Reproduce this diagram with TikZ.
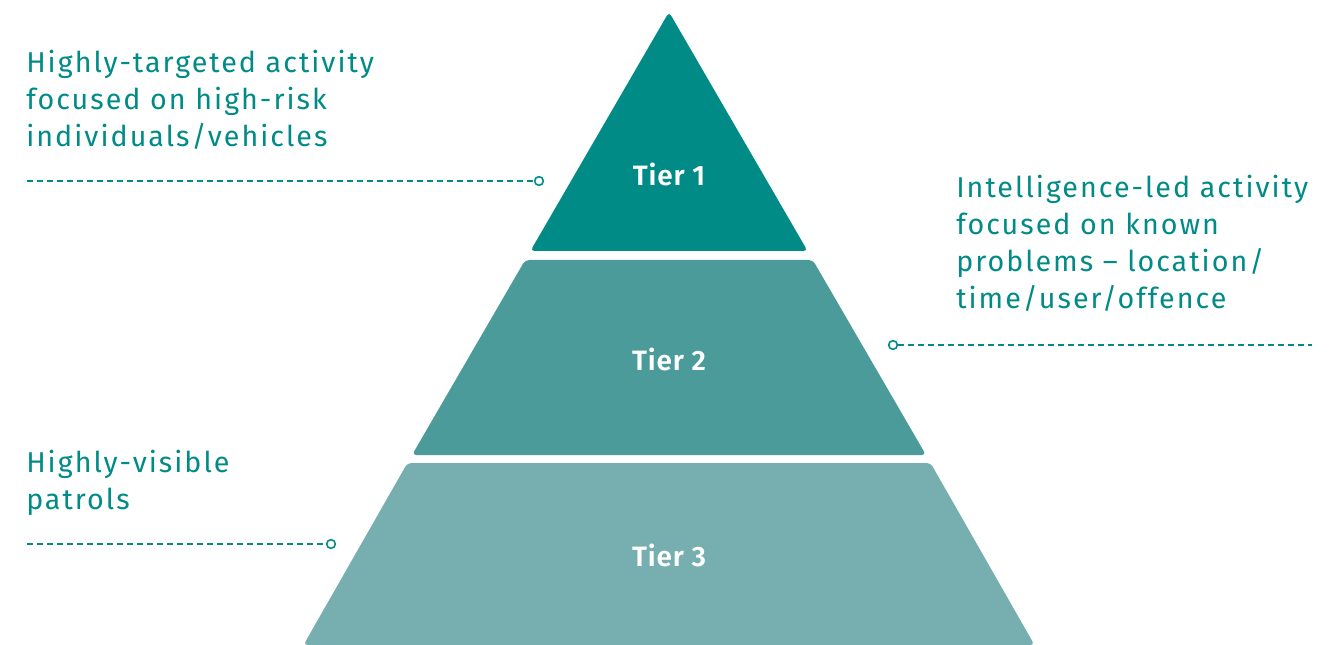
\documentclass[tikz,border=0pt]{standalone}
\usepackage{fontspec}
\setmainfont{Fira Sans}
\newfontfamily\notefont{Fira Sans}[LetterSpace=7]
\newfontfamily\tierfont{Fira Sans SemiBold}[LetterSpace=3]
\definecolor{tierone}{HTML}{008B87}
\definecolor{tiertwo}{HTML}{4B9B9B}
\definecolor{tierthree}{HTML}{77AEAF}
\begin{document}
\begin{tikzpicture}[x=0.75pt,y=-0.75pt]

\tikzstyle{tierpart}=[rounded corners=3pt]
\tikzstyle{tierlabel}=[text=white, font=\tierfont\fontsize{21}{26}\selectfont]
\tikzstyle{note}=[text=tierone, anchor=north west, align=left, inner sep=0pt, font=\notefont\fontsize{21.5}{27.75}\selectfont]
\tikzstyle{leader}=[tierone, line width=1.1pt, dash pattern=on 4.5pt off 3pt]
\tikzstyle{pin}=[circle, draw=tierone, line width=1.2pt, fill=white, inner sep=0pt, minimum size=6.5pt]

	\useasboundingbox (0,0) rectangle (1342,645);

	% Pyramid tiers
	\fill[tierone, tierpart] (669,12) -- (807.6,251) -- (530.4,251) -- cycle;
	\fill[tiertwo, tierpart] (525.2,260) -- (812.8,260) -- (926,455) -- (412,455) -- cycle;
	\fill[tierthree, tierpart] (407.4,463) -- (930.6,463) -- (1034.5,645) -- (303.5,645) -- cycle;

	\node[tierlabel] (t1) at (669,174) {Tier 1};
	\node[tierlabel] (t2) at (669,359) {Tier 2};
	\node[tierlabel] (t3) at (669,555) {Tier 3};

	% Descriptions
	\node[note] (n1) at (26,50) {Highly-targeted activity\\focused on high-risk\\individuals/vehicles};
	\node[note] (n2) at (956,175) {Intelligence-led activity\\focused on known\\problems – location/\\time/user/offence};
	\node[note] (n3) at (26,450) {Highly-visible\\patrols};

	% Leader lines
	\coordinate (l1) at (27,181);
	\node[pin] (p1) at (539,181) {};
	\draw[leader] (l1) -- (p1);

	\node[pin] (p2) at (893,345) {};
	\coordinate (r2) at (1312,345);
	\draw[leader] (p2) -- (r2);

	\coordinate (l3) at (27,544);
	\node[pin] (p3) at (331,544) {};
	\draw[leader] (l3) -- (p3);
\end{tikzpicture}
\end{document}
